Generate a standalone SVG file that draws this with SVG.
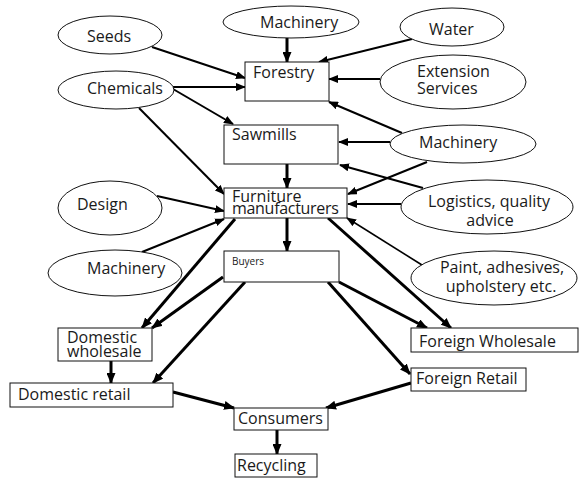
<svg xmlns="http://www.w3.org/2000/svg" width="579" height="478" viewBox="0 0 579 478">
  <style>
    .bg { fill: #ffffff; }
    .node ellipse, .node rect { fill: #ffffff; stroke: #111111; stroke-width: 1; }
    text { font-family: "Open Sans", "Noto Sans", "DejaVu Sans", sans-serif; font-size: 16px; fill: #1a1a1a; }
    .mid { text-anchor: middle; }
    .small { font-size: 10px; }
    .tight { letter-spacing: -0.3px; }
    .edge { fill: none; stroke: #000000; }
    .n { stroke-width: 2; marker-end: url(#ah); }
    .t { stroke-width: 3; marker-end: url(#ahb); }
    .f { stroke-width: 1.6; marker-end: url(#ah); }
  </style>
  <defs>
    <marker id="ah" markerUnits="userSpaceOnUse" markerWidth="10" markerHeight="8" refX="9" refY="4" orient="auto">
      <path d="M0,0 L10,4 L0,8 z" fill="#000000"/>
    </marker>
    <marker id="ahb" markerUnits="userSpaceOnUse" markerWidth="11" markerHeight="9" refX="10" refY="4.5" orient="auto">
      <path d="M0,0 L11,4.5 L0,9 z" fill="#000000"/>
    </marker>
  </defs>

  <rect class="bg" x="0" y="0" width="579" height="478"/>

  <!-- connectors -->
  <g id="connectors" class="edge">
    <line class="t" x1="287" y1="38" x2="287" y2="62"/>
    <line class="n" x1="152" y1="47" x2="245" y2="78"/>
    <line class="n" x1="173" y1="87" x2="245" y2="87"/>
    <line class="n" x1="173" y1="89" x2="233" y2="124"/>
    <line class="n" x1="139" y1="108" x2="224" y2="194"/>
    <line class="n" x1="412" y1="39" x2="319" y2="62"/>
    <line class="n" x1="380" y1="79" x2="329" y2="79"/>
    <line class="n" x1="402" y1="133" x2="329" y2="102"/>
    <line class="n" x1="390" y1="142" x2="339" y2="142"/>
    <line class="n" x1="423" y1="188" x2="340" y2="165"/>
    <line class="n" x1="427" y1="162" x2="348" y2="194"/>
    <line class="n" x1="401" y1="204" x2="348" y2="204"/>
    <line class="f" x1="422" y1="265" x2="347" y2="218"/>
    <line class="n" x1="157" y1="196" x2="224" y2="211"/>
    <line class="n" x1="142" y1="252" x2="224" y2="219"/>
    <line class="t" x1="287" y1="164" x2="287" y2="188"/>
    <line class="t" x1="287" y1="218" x2="287" y2="251"/>
    <line class="t" x1="235" y1="219" x2="142" y2="328"/>
    <line class="t" x1="223" y1="277" x2="152" y2="328"/>
    <line class="t" x1="245" y1="282" x2="153" y2="383"/>
    <line class="t" x1="111" y1="361" x2="111" y2="383"/>
    <line class="t" x1="173" y1="392" x2="234" y2="408"/>
    <line class="t" x1="328" y1="218" x2="451" y2="328"/>
    <line class="t" x1="339" y1="282" x2="427" y2="328"/>
    <line class="t" x1="328" y1="282" x2="410" y2="374"/>
    <line class="t" x1="411" y1="383" x2="326" y2="408"/>
    <line class="t" x1="277" y1="430" x2="277" y2="454"/>
  </g>

  <!-- input ellipses -->
  <g id="seeds" class="node">
    <ellipse cx="110" cy="35" rx="52" ry="19"/>
    <text x="87" y="42">Seeds</text>
  </g>
  <g id="chemicals" class="node">
    <ellipse cx="116" cy="90" rx="58" ry="19"/>
    <text x="87" y="94">Chemicals</text>
  </g>
  <g id="machinery-forestry" class="node">
    <ellipse cx="291" cy="22" rx="68" ry="16"/>
    <text x="260" y="28">Machinery</text>
  </g>
  <g id="water" class="node">
    <ellipse cx="452" cy="27" rx="52" ry="19"/>
    <text x="429" y="35">Water</text>
  </g>
  <g id="extension-services" class="node">
    <ellipse cx="453" cy="82" rx="73" ry="27"/>
    <text x="417" y="77">Extension</text>
    <text x="417" y="94">Services</text>
  </g>
  <g id="machinery-sawmills" class="node">
    <ellipse cx="463" cy="144" rx="73" ry="19"/>
    <text x="419" y="148">Machinery</text>
  </g>
  <g id="logistics" class="node">
    <ellipse cx="487" cy="207" rx="86" ry="27"/>
    <text class="mid" x="489" y="207">Logistics, quality</text>
    <text class="mid" x="490" y="226">advice</text>
  </g>
  <g id="paint" class="node">
    <ellipse cx="494" cy="278" rx="83" ry="27"/>
    <text class="mid" x="502" y="273">Paint, adhesives,</text>
    <text class="mid" x="501" y="292">upholstery etc.</text>
  </g>
  <g id="design" class="node">
    <ellipse cx="110" cy="208" rx="52" ry="27"/>
    <text x="77" y="210">Design</text>
  </g>
  <g id="machinery-furniture" class="node">
    <ellipse cx="115" cy="273" rx="67" ry="23"/>
    <text x="87" y="274">Machinery</text>
  </g>

  <!-- chain boxes -->
  <g id="forestry" class="node">
    <rect x="245" y="62" width="84" height="39"/>
    <text x="253" y="78">Forestry</text>
  </g>
  <g id="sawmills" class="node">
    <rect x="224" y="125" width="114" height="39"/>
    <text x="232" y="140">Sawmills</text>
  </g>
  <g id="furniture-manufacturers" class="node">
    <rect x="224" y="188" width="123" height="30"/>
    <text x="232" y="202">Furniture</text>
    <text class="tight" x="232" y="214">manufacturers</text>
  </g>
  <g id="buyers" class="node">
    <rect x="224" y="251" width="115" height="31"/>
    <text class="small" x="232" y="265">Buyers</text>
  </g>
  <g id="domestic-wholesale" class="node">
    <rect x="58" y="328" width="94" height="33"/>
    <text x="67" y="343">Domestic</text>
    <text x="67" y="357">wholesale</text>
  </g>
  <g id="domestic-retail" class="node">
    <rect x="10" y="383" width="163" height="24"/>
    <text x="18" y="400">Domestic retail</text>
  </g>
  <g id="foreign-wholesale" class="node">
    <rect x="411" y="328" width="167" height="24"/>
    <text x="419" y="347">Foreign Wholesale</text>
  </g>
  <g id="foreign-retail" class="node">
    <rect x="411" y="368" width="115" height="23"/>
    <text x="416" y="384">Foreign Retail</text>
  </g>
  <g id="consumers" class="node">
    <rect x="234" y="408" width="94" height="22"/>
    <text x="238" y="424">Consumers</text>
  </g>
  <g id="recycling" class="node">
    <rect x="235" y="454" width="82" height="23"/>
    <text x="237" y="471">Recycling</text>
  </g>
</svg>
